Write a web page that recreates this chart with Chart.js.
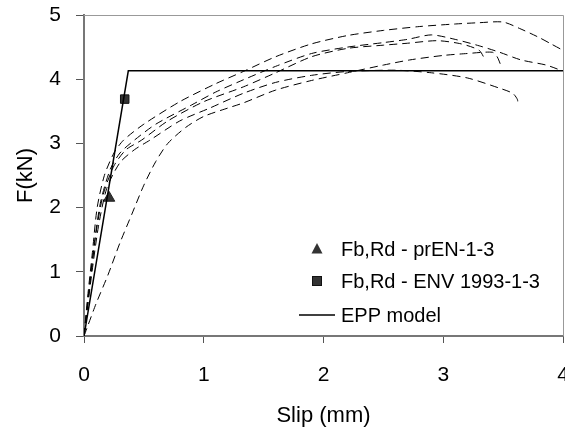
<!DOCTYPE html>
<html>
<head>
<meta charset="utf-8">
<script src="https://cdn.jsdelivr.net/npm/chart.js@4/dist/chart.umd.min.js"></script>
<style>
html,body{margin:0;padding:0;background:#fff;overflow:hidden;}
#wrap{width:565px;height:432px;overflow:hidden;position:relative;}
canvas{display:block;}
</style>
</head>
<body>
<div id="wrap"><canvas id="c" width="585" height="432"></canvas></div>
<script>
// ---- data ----
const xTicks = [0, 1, 2, 3, 4];
const yTicks = [0, 1, 2, 3, 4, 5];

const curveA_x = [0,0.03,0.07,0.11,0.17,0.25,0.33,0.5,0.8,1.1,1.33,1.6,1.9,2.2,2.5,2.8,3.1,3.3,3.5,3.65,3.8,3.9,4.0];
const curveA_y = [0,0.6,1.3,2.0,2.5,2.85,3.05,3.3,3.65,3.93,4.12,4.35,4.55,4.68,4.76,4.82,4.86,4.88,4.89,4.78,4.65,4.55,4.45];

const curveB_x = [0,0.04,0.09,0.14,0.22,0.3,0.42,0.6,0.9,1.1,1.33,1.6,1.9,2.2,2.5,2.7,2.9,3.1,3.3,3.47,3.65,3.86,3.98];
const curveB_y = [0,0.7,1.5,2.1,2.6,2.85,3.05,3.3,3.6,3.8,3.99,4.2,4.4,4.5,4.57,4.62,4.69,4.62,4.52,4.42,4.3,4.22,4.14];

const curveC_x = [0,0.05,0.1,0.16,0.25,0.35,0.48,0.7,1.0,1.33,1.6,1.9,2.2,2.5,2.7,2.95,3.15,3.3,3.35];
const curveC_y = [0,0.8,1.6,2.2,2.65,2.9,3.05,3.35,3.65,3.88,4.1,4.35,4.48,4.53,4.56,4.6,4.55,4.45,4.3];

const curveD_x = [0,0.06,0.12,0.19,0.3,0.42,0.55,0.8,1.05,1.33,1.6,1.9,2.2,2.6,2.9,3.2,3.47,3.58,3.62,3.62];
const curveD_y = [0,0.9,1.7,2.3,2.7,2.9,3.05,3.35,3.55,3.78,3.95,4.06,4.12,4.14,4.1,4.02,3.86,3.78,3.68,3.58];

const curveF_x = [0,0.03,0.1,0.2,0.3,0.4,0.5,0.6,0.7,0.85,1.0,1.2,1.33,1.6,1.9,2.2,2.5,2.72,3.0,3.2,3.41,3.45,3.48];
const curveF_y = [0,0.15,0.5,0.95,1.45,1.9,2.35,2.72,3.0,3.25,3.42,3.55,3.63,3.83,3.98,4.1,4.22,4.3,4.37,4.4,4.42,4.35,4.22];

const eppX = [0, 0.37, 4];
const eppY = [0, 4.13, 4.13];

const prenX = [0.21];
const prenY = [2.15];
const envX = [0.34];
const envY = [3.69];

const legendLabels = ['Fb,Rd - prEN-1-3', 'Fb,Rd - ENV 1993-1-3', 'EPP model'];
const xTitle = 'Slip (mm)';
const yTitle = 'F(kN)';

// ---- build ----
const pts = (xs, ys) => xs.map((x, i) => ({x: x, y: ys[i]}));
const FONT = '"Liberation Sans", Arial, sans-serif';

const dashed = (xs, ys) => ({
  data: pts(xs, ys), showLine: true, borderColor: '#000', borderWidth: 1,
  borderDash: [8, 5], pointRadius: 0, fill: false, tension: 0.25
});

const datasets = [
  dashed(curveA_x, curveA_y),
  dashed(curveB_x, curveB_y),
  dashed(curveC_x, curveC_y),
  dashed(curveD_x, curveD_y),
  dashed(curveF_x, curveF_y),
  {data: pts(eppX, eppY), showLine: true, borderColor: '#000', borderWidth: 1.5, pointRadius: 0, tension: 0},
  {data: pts(prenX, prenY), showLine: false, pointStyle: 'triangle', pointRadius: 6.5, backgroundColor: '#333', borderColor: '#222', borderWidth: 1},
  {data: pts(envX, envY), showLine: false, pointStyle: 'rect', pointRadius: 6, backgroundColor: '#333', borderColor: '#111', borderWidth: 1}
];

const framePlugin = {
  id: 'frame',
  beforeDatasetsDraw(chart) {
    const {ctx, chartArea: a} = chart;
    ctx.save();
    ctx.strokeStyle = '#999';
    ctx.lineWidth = 1;
    ctx.beginPath();
    ctx.moveTo(a.left, a.top + 0.5);
    ctx.lineTo(a.right + 0.5, a.top + 0.5);
    ctx.lineTo(a.right + 0.5, a.bottom);
    ctx.stroke();
    ctx.restore();
  }
};

const legendPlugin = {
  id: 'inlegend',
  afterDatasetsDraw(chart) {
    const {ctx} = chart;
    ctx.save();
    ctx.font = '20px ' + FONT;
    ctx.textBaseline = 'middle';
    ctx.textAlign = 'left';
    const tx = 341;
    const rows = [249, 281, 315];
    ctx.fillStyle = '#333';
    ctx.beginPath();
    ctx.moveTo(317, rows[0] - 6);
    ctx.lineTo(322.5, rows[0] + 4.5);
    ctx.lineTo(311.5, rows[0] + 4.5);
    ctx.closePath();
    ctx.fill();
    ctx.fillRect(312, rows[1] - 5, 10, 10);
    ctx.strokeStyle = '#111';
    ctx.lineWidth = 1;
    ctx.strokeRect(312.5, rows[1] - 4.5, 9, 9);
    ctx.strokeStyle = '#000';
    ctx.lineWidth = 1.5;
    ctx.beginPath();
    ctx.moveTo(299, rows[2]);
    ctx.lineTo(335, rows[2]);
    ctx.stroke();
    ctx.fillStyle = '#000';
    legendLabels.forEach((t, i) => ctx.fillText(t, tx, rows[i] + 1));
    ctx.restore();
  }
};

const noPad = s => { s.paddingTop = 0; s.paddingBottom = 0; s.paddingLeft = 0; s.paddingRight = 0; };

new Chart(document.getElementById('c'), {
  type: 'scatter',
  data: {datasets: datasets},
  plugins: [framePlugin, legendPlugin],
  options: {
    responsive: false,
    animation: false,
    layout: {padding: {left: 0, right: 22, top: 15, bottom: 0}},
    plugins: {legend: {display: false}, tooltip: {enabled: false}},
    scales: {
      x: {
        type: 'linear', min: 0, max: 4,
        afterBuildTicks: s => { s.ticks = xTicks.map(v => ({value: v})); },
        afterFit: s => { s.height = 96; noPad(s); },
        ticks: {color: '#000', font: {family: FONT, size: 21}, padding: 20, maxRotation: 0, minRotation: 0},
        grid: {drawOnChartArea: false, drawTicks: true, tickLength: 7, color: '#555'},
        border: {display: true, color: '#777', width: 2},
        title: {display: true, text: xTitle, color: '#000', font: {family: FONT, size: 22}, padding: {top: 0, bottom: 3}}
      },
      y: {
        type: 'linear', min: 0, max: 5,
        afterBuildTicks: s => { s.ticks = yTicks.map(v => ({value: v})); },
        afterFit: s => { s.width = 84; noPad(s); },
        ticks: {color: '#000', font: {family: FONT, size: 21}, padding: 15},
        grid: {drawOnChartArea: false, drawTicks: true, tickLength: 8, color: '#555'},
        border: {display: true, color: '#777', width: 2},
        title: {display: true, text: yTitle, color: '#000', font: {family: FONT, size: 22}, padding: {top: 13, bottom: 0}}
      }
    }
  }
});
</script>
</body>
</html>
